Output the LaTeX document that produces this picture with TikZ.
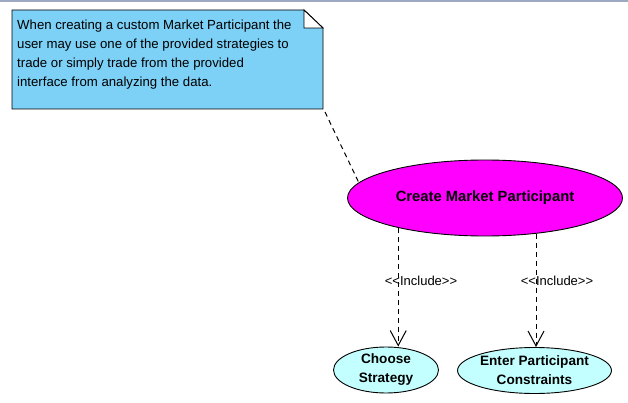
\documentclass[tikz,border=0pt]{standalone}
\usepackage{fontspec}
\setmainfont{Liberation Sans}
\usetikzlibrary{arrows.meta,shapes.geometric,calc}
\definecolor{notefill}{HTML}{7DD0F6}
\definecolor{ucmain}{HTML}{FF00FF}
\definecolor{ucsub}{HTML}{C4FFFF}
\definecolor{topbar}{HTML}{9DA9C2}
\tikzset{
  notebox/.style={draw,fill=notefill,line width=0.9pt},
  notetxt/.style={anchor=north west,align=left,inner sep=0pt,font=\fontsize{13.2}{19}\selectfont},
  usecase/.style={draw,ellipse,inner sep=0pt,line width=0.9pt,align=center,font=\bfseries\fontsize{13.6}{19}\selectfont},
  mainuc/.style={usecase,fill=ucmain,minimum width=275pt,minimum height=76pt,font=\bfseries\fontsize{14.8}{16}\selectfont},
  subuc/.style={usecase,fill=ucsub,minimum height=46pt},
  anchorln/.style={dashed,dash pattern=on 5pt off 4pt,line width=1pt},
  incl/.style={anchorln,-{Straight Barb[length=15pt,width=16pt,line width=1pt]}},
  lbl/.style={font=\fontsize{13}{14}\selectfont,inner sep=0pt}
}
\begin{document}
\begin{tikzpicture}[x=1pt,y=-1pt]
  \useasboundingbox (0,0) rectangle (628,403);
  \draw[topbar,line width=2pt] (0,1) -- (628,1);

  % note
  \coordinate (nw) at (12,10);
  \coordinate (se) at (323,109);
  \draw[notebox] (nw) -- (304,10) -- (se |- 0,28) -- (se) -- (nw |- se) -- cycle;
  \draw[fill=white,line width=0.9pt] (304,10) -- (304,28) -- (se |- 0,28) -- cycle;
  \node[notetxt] (notetext) at (17,19.5) {When creating a custom Market Participant the\\user may use one of the provided strategies to\\trade or simply trade from the provided\\interface from analyzing the data.};

  % use cases
  \node[mainuc] (create) at (485,198) {Create Market Participant};
  \node[subuc,minimum width=105pt] (choose) at (386,370) {Choose\\Strategy};
  \node[subuc,minimum width=149pt] (enter) at (534.5,370.5) {Enter Participant\\Constraints};

  \draw[anchorln] ($(se)+(2,3)$) -- (create.173);
  \draw[incl] (create.199) -- (create.199 |- choose.north);
  \draw[incl] (create.325) -- (create.325 |- enter.north);
  \node[lbl] (inclA) at (421,281) {{<}{<}Include{>}{>}};
  \node[lbl] (inclB) at (557,281) {{<}{<}Include{>}{>}};
\end{tikzpicture}
\end{document}
